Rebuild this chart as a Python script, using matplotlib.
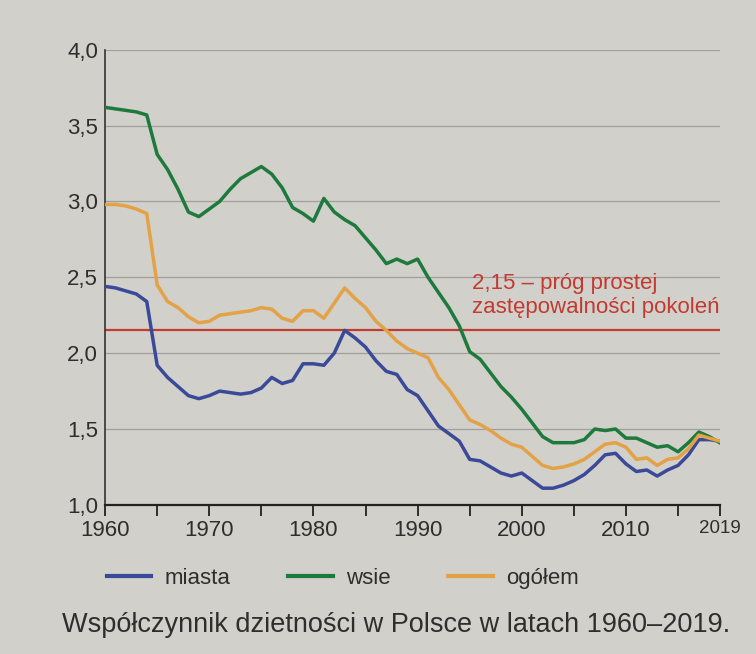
import matplotlib
matplotlib.use("Agg")
import matplotlib.pyplot as plt

years = list(range(1960, 2020))

miasta = [2.44, 2.43, 2.41, 2.39, 2.34, 1.92, 1.84, 1.78, 1.72, 1.70,
          1.72, 1.75, 1.74, 1.73, 1.74, 1.77, 1.84, 1.80, 1.82, 1.93,
          1.93, 1.92, 2.00, 2.15, 2.10, 2.04, 1.95, 1.88, 1.86, 1.76,
          1.72, 1.62, 1.52, 1.47, 1.42, 1.30, 1.29, 1.25, 1.21, 1.19,
          1.21, 1.16, 1.11, 1.11, 1.13, 1.16, 1.20, 1.26, 1.33, 1.34,
          1.27, 1.22, 1.23, 1.19, 1.23, 1.26, 1.33, 1.43, 1.43, 1.42]

wsie = [3.62, 3.61, 3.60, 3.59, 3.57, 3.31, 3.21, 3.08, 2.93, 2.90,
        2.95, 3.00, 3.08, 3.15, 3.19, 3.23, 3.18, 3.09, 2.96, 2.92,
        2.87, 3.02, 2.93, 2.88, 2.84, 2.76, 2.68, 2.59, 2.62, 2.59,
        2.62, 2.50, 2.40, 2.30, 2.18, 2.01, 1.96, 1.87, 1.78, 1.71,
        1.63, 1.54, 1.45, 1.41, 1.41, 1.41, 1.43, 1.50, 1.49, 1.50,
        1.44, 1.44, 1.41, 1.38, 1.39, 1.35, 1.41, 1.48, 1.45, 1.41]

ogolem = [2.98, 2.98, 2.97, 2.95, 2.92, 2.45, 2.34, 2.30, 2.24, 2.20,
          2.21, 2.25, 2.26, 2.27, 2.28, 2.30, 2.29, 2.23, 2.21, 2.28,
          2.28, 2.23, 2.33, 2.43, 2.36, 2.30, 2.21, 2.15, 2.08, 2.03,
          2.00, 1.97, 1.84, 1.76, 1.66, 1.56, 1.53, 1.49, 1.44, 1.40,
          1.38, 1.32, 1.26, 1.24, 1.25, 1.27, 1.30, 1.35, 1.40, 1.41,
          1.38, 1.30, 1.31, 1.26, 1.30, 1.31, 1.37, 1.46, 1.44, 1.42]

threshold = 2.15
threshold_label = "2,15 – próg prostej\nzastępowalności pokoleń"
series_names = ["miasta", "wsie", "ogółem"]
x_major = [1960, 1970, 1980, 1990, 2000, 2010, 2019]
x_minor = [1965, 1975, 1985, 1995, 2005, 2015]
y_ticks = [1.0, 1.5, 2.0, 2.5, 3.0, 3.5, 4.0]
y_labels = ["1,0", "1,5", "2,0", "2,5", "3,0", "3,5", "4,0"]
caption = "Współczynnik dzietności w Polsce w latach 1960–2019."

plt.rcParams['font.family'] = ['Liberation Sans', 'DejaVu Sans']
bg = '#d1d0cb'
txt = '#2e2e2e'

fig = plt.figure(figsize=(7.56, 6.54), dpi=100, facecolor=bg)
ax = fig.add_axes([0.139, 0.228, 0.813, 0.696])
ax.set_facecolor(bg)

for v in y_ticks[1:]:
    ax.axhline(v, color='#a09f9b', lw=0.9, zorder=1)

ax.axhline(threshold, color='#c23a30', lw=1.6, zorder=2)
ax.text(1995.2, threshold + 0.08, threshold_label, color='#c23a30',
        fontsize=16, ha='left', va='bottom', linespacing=1.2, zorder=3)

l1, = ax.plot(years, miasta, color='#3a4a98', lw=2.5, solid_joinstyle='round', zorder=4)
l2, = ax.plot(years, wsie, color='#1e7a3c', lw=2.5, solid_joinstyle='round', zorder=4)
l3, = ax.plot(years, ogolem, color='#e3a246', lw=2.5, solid_joinstyle='round', zorder=4)

ax.set_xlim(1960, 2019)
ax.set_ylim(1.0, 4.0)

for s in ['top', 'right']:
    ax.spines[s].set_visible(False)
ax.spines['left'].set_color('#333333')
ax.spines['left'].set_linewidth(1.2)
ax.spines['bottom'].set_color('#222222')
ax.spines['bottom'].set_linewidth(1.6)

ax.set_yticks(y_ticks)
ax.set_yticklabels(y_labels)
ax.tick_params(axis='y', length=0, pad=5, labelsize=16, labelcolor=txt)

ax.set_xticks(x_major)
ax.set_xticklabels([str(x) for x in x_major])
ax.set_xticks(x_minor, minor=True)
ax.tick_params(axis='x', which='both', direction='out', length=8, width=1.3,
               color='#222222', pad=3, labelsize=16, labelcolor=txt)
ax.get_xticklabels()[-1].set_fontsize(13.5)

leg = ax.legend([l1, l2, l3], series_names, loc='upper left',
                bbox_to_anchor=(-0.03, -0.095), ncol=3, frameon=False,
                fontsize=16, handlelength=2.0, handletextpad=0.6,
                columnspacing=2.6, labelcolor=txt)
for h in leg.get_lines():
    h.set_linewidth(3)

fig.text(0.082, 0.045, caption, fontsize=19.5, color=txt, ha='left', va='center')

fig.savefig('out.png', dpi=100, facecolor=bg)
